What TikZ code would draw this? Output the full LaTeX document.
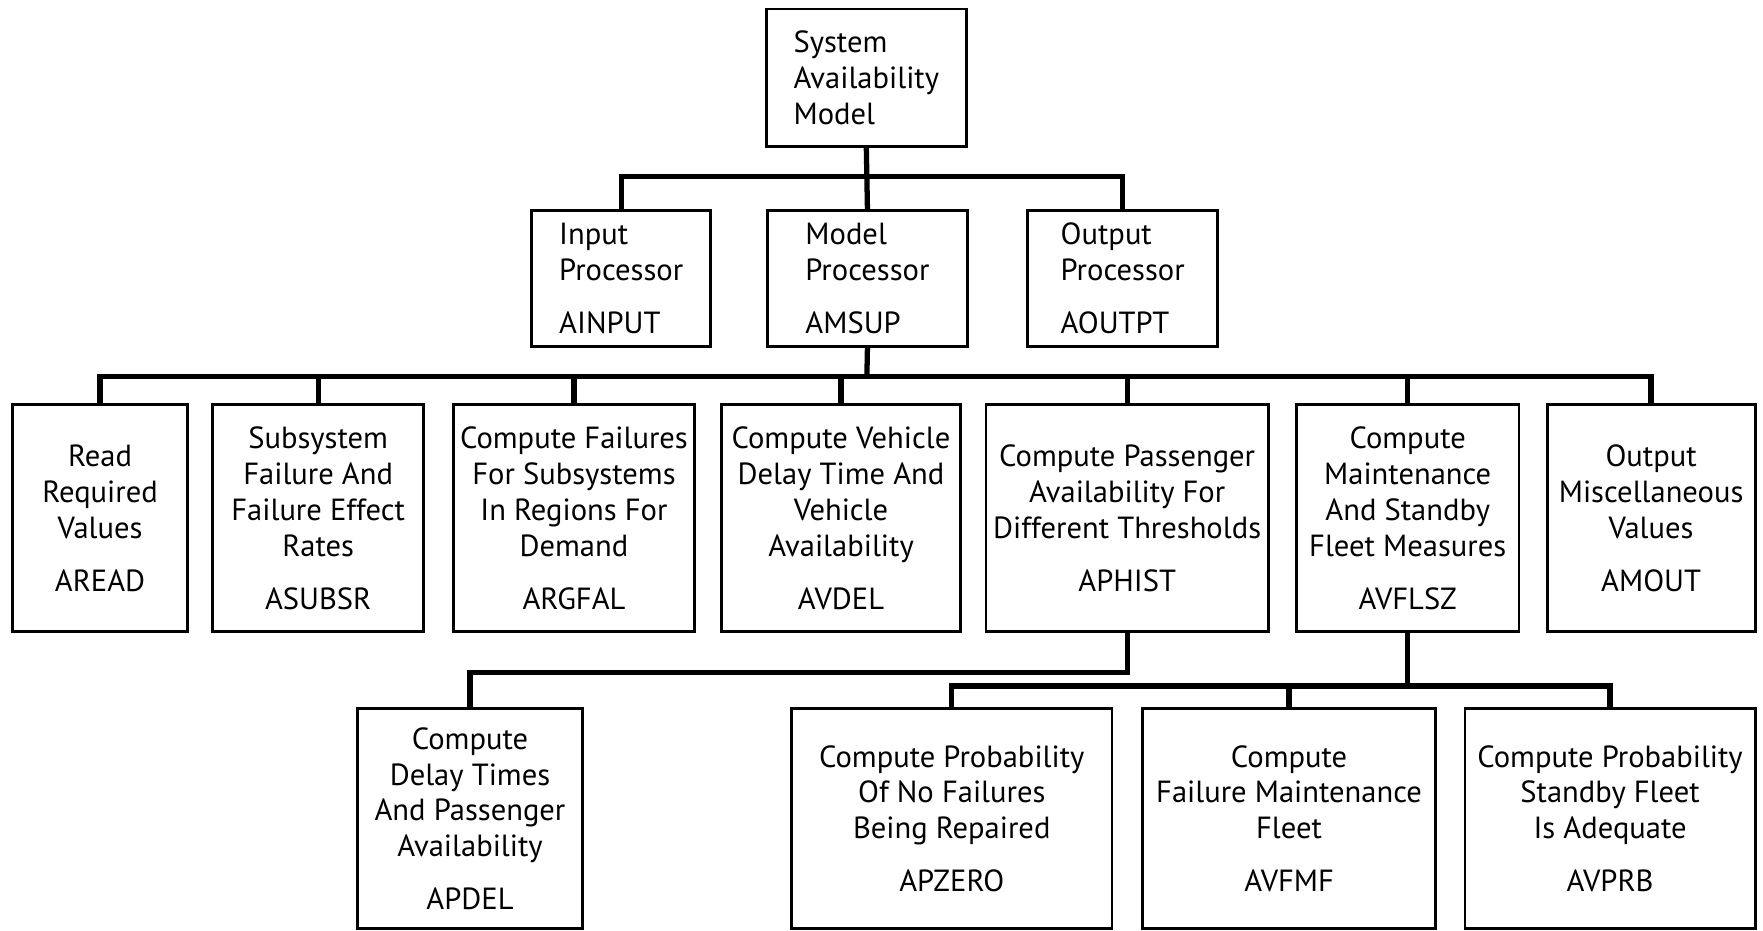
\documentclass[tikz,border=0pt]{standalone}
\usepackage{fontspec}
\setmainfont{PT Sans}
\usetikzlibrary{positioning}
\newlength{\px}
\setlength{\px}{0.011244cm}

\begin{document}
\begin{tikzpicture}[x=0.011244cm, y=-0.011244cm,
    box/.style={rectangle, draw, line width=0.8pt, inner sep=0pt, align=center, font=\fontsize{8.7}{10.2}\selectfont},
    leftbox/.style={box, align=left},
    link/.style={line width=1.5pt}]

    \useasboundingbox (0,0) rectangle (1568,828);

    % Top
    \node[leftbox, minimum width=178*\px, minimum height=122*\px] (sam) at (770.5,69) {System\\Availability\\Model};

    % Processors
    \node[leftbox, minimum width=159*\px, minimum height=121*\px] (ainput) at (552.5,247.5) {Input\\Processor\\[4.8pt]AINPUT};
    \node[leftbox, minimum width=178*\px, minimum height=121*\px] (amsup) at (771.5,247.5) {Model\\Processor\\[4.8pt]AMSUP};
    \node[leftbox, minimum width=169*\px, minimum height=121*\px] (aoutpt) at (998.5,247.5) {Output\\Processor\\[4.8pt]AOUTPT};

    % Model processor routines
    \node[box, minimum width=156*\px, minimum height=202*\px] (aread) at (89,461) {Read\\Required\\Values\\[4.8pt]AREAD};
    \node[box, minimum width=188*\px, minimum height=202*\px] (asubsr) at (283,461) {Subsystem\\Failure And\\Failure Effect\\Rates\\[4.8pt]ASUBSR};
    \node[box, minimum width=215*\px, minimum height=202*\px] (argfal) at (510.5,461) {Compute Failures\\For Subsystems\\In Regions For\\Demand\\[4.8pt]ARGFAL};
    \node[box, minimum width=212*\px, minimum height=202*\px] (avdel) at (748,461) {Compute Vehicle\\Delay Time And\\Vehicle\\Availability\\[4.8pt]AVDEL};
    \node[box, minimum width=251*\px, minimum height=202*\px] (aphist) at (1002.5,461) {Compute Passenger\\Availability For\\Different Thresholds\\[4.8pt]APHIST};
    \node[box, minimum width=198*\px, minimum height=202*\px] (avflsz) at (1252,461) {Compute\\Maintenance\\And Standby\\Fleet Measures\\[4.8pt]AVFLSZ};
    \node[box, minimum width=185*\px, minimum height=202*\px] (amout) at (1468.5,461) {Output\\Miscellaneous\\Values\\[4.8pt]AMOUT};

    % Lower routines
    \node[box, minimum width=200*\px, minimum height=196*\px] (apdel) at (418,728) {Compute\\Delay Times\\And Passenger\\Availability\\[4.8pt]APDEL};
    \node[box, minimum width=285*\px, minimum height=196*\px] (apzero) at (846.5,728) {Compute Probability\\Of No Failures\\Being Repaired\\[4.8pt]APZERO};
    \node[box, minimum width=261*\px, minimum height=196*\px] (avfmf) at (1146.5,728) {Compute\\Failure Maintenance\\Fleet\\[4.8pt]AVFMF};
    \node[box, minimum width=258*\px, minimum height=196*\px] (avprb) at (1432,728) {Compute Probability\\Standby Fleet\\Is Adequate\\[4.8pt]AVPRB};

    % Buses
    \coordinate (b1) at (771,157);
    \coordinate (b2) at (771,335);
    \coordinate (b3) at (1002.5,598);
    \coordinate (b4) at (1252,610);

    % Links
    \draw[link] (sam.south) -- (amsup.north);
    \draw[link] (ainput.north) |- (b1) -| (aoutpt.north);
    \draw[link] (amsup.south) -- (b2);
    \draw[link] (aread.north) |- (b2) -| (amout.north);
    \foreach \n in {asubsr,argfal,avdel,aphist,avflsz}
        \draw[link] (\n.north) -- (\n.north |- b2);
    \draw[link] (aphist.south) -- (b3) -| (apdel.north);
    \draw[link] (avflsz.south) -- (b4);
    \draw[link] (apzero.north) |- (b4) -| (avprb.north);
    \draw[link] (avfmf.north) -- (avfmf.north |- b4);
\end{tikzpicture}
\end{document}
